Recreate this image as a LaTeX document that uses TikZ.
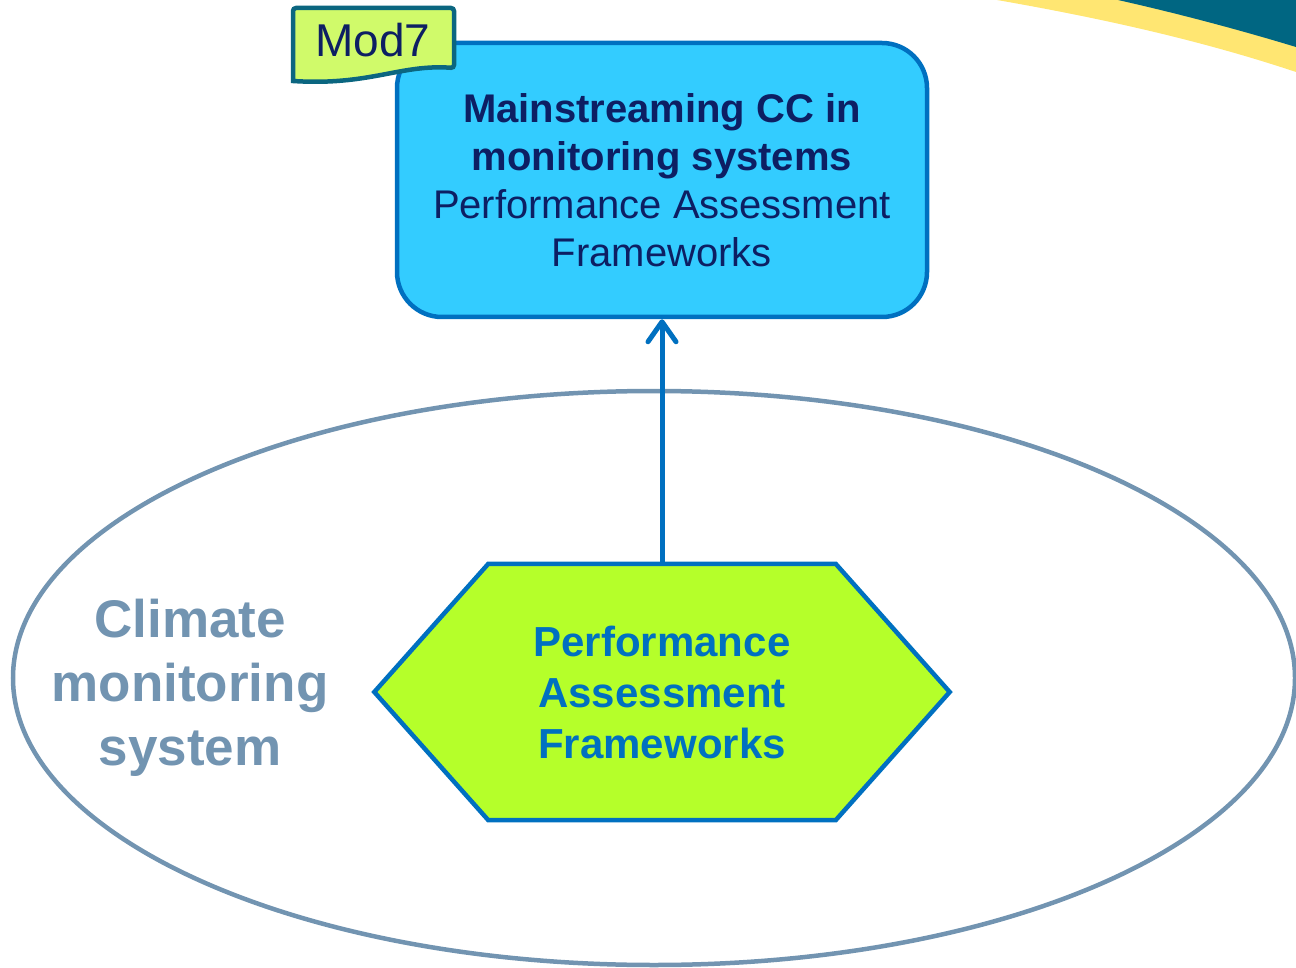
\documentclass[tikz,border=0pt]{standalone}
\usepackage{fontspec}
\setmainfont{Liberation Sans}
\usetikzlibrary{shapes.geometric,arrows.meta}
\definecolor{boxcyan}{HTML}{33CCFF}
\definecolor{edgeblue}{HTML}{0070C0}
\definecolor{navy}{HTML}{0D1F63}
\definecolor{hexgreen}{HTML}{B5FF2A}
\definecolor{envgray}{HTML}{7294B1}
\definecolor{tagfill}{HTML}{D0FA6A}
\definecolor{tagedge}{HTML}{0B6680}
\definecolor{swyellow}{HTML}{FFE672}
\definecolor{swteal}{HTML}{006682}
\tikzset{
  mainbox/.style={draw=edgeblue, fill=boxcyan, line width=4.5pt, rounded corners=45pt,
    minimum width=530pt, minimum height=274pt, inner sep=0pt, align=center,
    text=navy, font=\fontsize{40}{48}\selectfont},
  hexnode/.style={draw=none, minimum width=575pt, minimum height=256pt, inner sep=0pt,
    align=center, text=edgeblue, font=\fontsize{42}{51}\selectfont\bfseries},
  hexline/.style={draw=edgeblue, fill=hexgreen, line width=4.5pt, line join=miter},
  envnode/.style={ellipse, draw=envgray, line width=4.5pt, minimum width=1282pt,
    minimum height=574pt, inner sep=0pt},
  envtext/.style={align=center, text=envgray, font=\fontsize{53}{64}\selectfont\bfseries},
  tagline/.style={draw=tagedge, fill=tagfill, line width=4.5pt, rounded corners=3pt},
  tagtext/.style={text=navy, font=\fontsize{46}{50}\selectfont, inner sep=0pt},
  arr/.style={draw=edgeblue, line width=5pt,
    -{Straight Barb[length=20pt,width=28pt,round]}}
}
\begin{document}
\begin{tikzpicture}[x=1pt,y=-1pt]
\useasboundingbox (0,0) rectangle (1296,968);
% top-right swoosh
\fill[swyellow] (997,0) .. controls (1100,18) and (1200,40) .. (1296,72) -- (1296,0) -- cycle;
\fill[swteal] (1118,0) .. controls (1180,14) and (1240,30) .. (1296,47) -- (1296,0) -- cycle;
% environment ellipse
\node[envnode] (env) at (654,678) {};
\node[envtext] (envlabel) at (190,688) {Climate\\monitoring\\system};
% hexagon
\node[hexnode] (hex) at (662,692) {};
\draw[hexline] (hex.west) -- ([xshift=114pt]hex.north west) -- ([xshift=-114pt]hex.north east)
  -- (hex.east) -- ([xshift=-114pt]hex.south east) -- ([xshift=114pt]hex.south west) -- cycle;
\node[hexnode] (hextext) at (662,692) {Performance\\Assessment\\Frameworks};
% main box
\node[mainbox] (main) at (662,180) {\textbf{Mainstreaming CC in}\\\textbf{monitoring systems}\\Performance Assessment\\Frameworks};
% arrow
\draw[arr] (hex.north) -- (main.south);
% Mod7 tag
\draw[tagline] (293,81) -- (293,8) -- (454,8) -- (454,68) [sharp corners] .. controls (400,64) and (370,86) .. (293,81) -- cycle;
\node[tagtext] (tag) at (373,40) {Mod7};
\end{tikzpicture}
\end{document}
